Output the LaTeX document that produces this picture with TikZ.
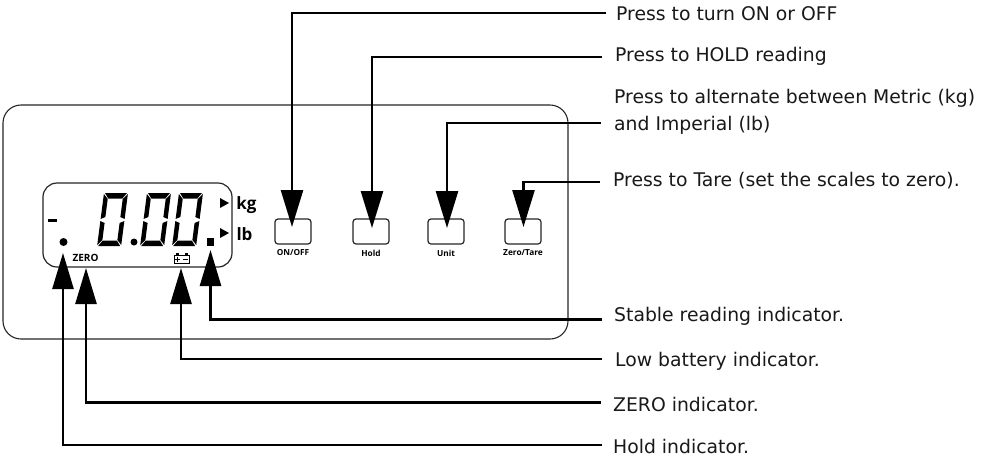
\documentclass[tikz,border=0pt]{standalone}
\usepackage{fontspec}
\setmainfont{DejaVu Sans}
\newfontfamily\lblfont{Open Sans}
\usetikzlibrary{arrows.meta}
\newcommand{\lcddigit}[1]{%
  \begin{scope}[shift={(#1,193)},xslant=0.13]
    \fill (1,0)--(23,0)--(19,5.5)--(5,5.5)--cycle;
    \fill (0,1)--(4.5,6)--(4.5,24)--(0,26)--cycle;
    \fill (24,1)--(24,26)--(19.5,24)--(19.5,6)--cycle;
    \fill (0,28)--(4.5,30)--(4.5,47)--(0,52)--cycle;
    \fill (24,28)--(24,52)--(19.5,47)--(19.5,30)--cycle;
    \fill (1,53)--(23,53)--(19,47.5)--(5,47.5)--cycle;
  \end{scope}}
\tikzset{
  frameline/.style={draw=black!85,line width=1.1pt},
  btnbox/.style={draw=black!85,line width=1.2pt,rounded corners=3pt,minimum width=36pt,minimum height=25pt,inner sep=0pt},
  btnlabel/.style={font=\lblfont\bfseries\fontsize{8.3}{9}\selectfont,inner sep=0pt},
  note/.style={anchor=west,inner sep=0pt,align=left,font=\fontsize{18.8}{27}\selectfont,text=black!90},
  conn/.style={draw=black,line width=2.6pt,line join=miter,-{Triangle[width=22pt,length=37pt]}},
  connb/.style={draw=black,line width=2.6pt,line join=miter,-{Triangle[width=21pt,length=36pt]}}
}
\begin{document}
\begin{tikzpicture}[x=1pt,y=-1pt]
\useasboundingbox (0,0) rectangle (984,459);
\fill[white] (0,0) rectangle (984,459);
% housing and display
\draw[frameline,rounded corners=18pt] (3,105) rectangle (568,339);
\node[draw=black!85,line width=1.2pt,rounded corners=14pt,minimum width=189pt,minimum height=84pt,inner sep=0pt] (lcd) at (137.5,225) {};
% display content
\lcddigit{104}
\lcddigit{147}
\lcddigit{179}
\fill (48,219) rectangle (57,222);
\node[circle,fill=black,minimum size=8pt,inner sep=0pt] (holddot) at (63.5,242) {};
\node[circle,fill=black,minimum size=7pt,inner sep=0pt] (decdot) at (134,242) {};
\node[fill=black,minimum size=7.5pt,inner sep=0pt] (stablesq) at (210.5,242) {};
\node[inner sep=0pt,font=\lblfont\bfseries\fontsize{10}{11}\selectfont] (zerolbl) at (85.5,257.5) {ZERO};
\fill (220,198)--(229,203)--(220,208)--cycle;
\fill (220,228)--(229,233)--(220,238)--cycle;
\node[inner sep=0pt,font=\lblfont\bfseries\fontsize{17}{18}\selectfont] (kg) at (246.5,205) {kg};
\node[inner sep=0pt,font=\lblfont\bfseries\fontsize{17}{18}\selectfont] (lb) at (244.5,234) {lb};
% battery icon
\node[draw=black,line width=1pt,minimum width=15pt,minimum height=8pt,inner sep=0pt] (batt) at (181.5,259) {};
\fill (175.5,253) rectangle (178.5,255);
\fill (184.5,253) rectangle (187.5,255);
\draw[line width=1pt] (175,259)--(180,259) (177.5,256.5)--(177.5,261.5) (183,259)--(188,259);
% buttons
\node[btnbox] (bon) at (293,231.5) {};
\node[btnbox] (bhold) at (371,231.5) {};
\node[btnbox] (bunit) at (446,231.5) {};
\node[btnbox] (bzero) at (523,231.5) {};
\node[btnlabel] (lon) at (293,253) {ON/OFF};
\node[btnlabel] (lhold) at (371,253) {Hold};
\node[btnlabel] (lunit) at (446,253) {Unit};
\node[btnlabel] (lzero) at (523,253) {Zero/Tare};
% notes
\node[note] (non) at (616,14) {Press to turn ON or OFF};
\node[note] (nhold) at (615,56) {Press to HOLD reading};
\node[note] (nunit) at (614,111.5) {Press to alternate between Metric (kg)\\and Imperial (lb)};
\node[note] (nzero) at (613,181) {Press to Tare (set the scales to zero).};
\node[note] (nstable) at (614,316) {Stable reading indicator.};
\node[note] (nbatt) at (615,361) {Low battery indicator.};
\node[note] (nzi) at (613,404) {ZERO indicator.};
\node[note] (nhi) at (613,446) {Hold indicator.};
% connector ends
\coordinate (eon) at (606,13);
\coordinate (ehold) at (602,57);
\coordinate (eunit) at (601,123);
\coordinate (ezero) at (600,182);
\coordinate (estable) at (602,319.5);
\coordinate (ebatt) at (602,359);
\coordinate (ezi) at (601,402.5);
\coordinate (ehi) at (602,445);
\coordinate (ton) at (292,227);
\coordinate (thold) at (372,228);
\coordinate (tunit) at (447,228);
\coordinate (tzero) at (523.5,227);
\coordinate (tstable) at (210.5,250);
\coordinate (tbatt) at (181,268);
\coordinate (tzi) at (86,268);
\coordinate (thi) at (63,253);
% connectors
\draw[conn] (eon) -| (ton);
\draw[conn] (ehold) -| (thold);
\draw[conn] (eunit) -| (tunit);
\draw[conn] (ezero) -| (tzero);
\draw[connb] (estable) -| (tstable);
\draw[connb] (ebatt) -| (tbatt);
\draw[connb] (ezi) -| (tzi);
\draw[connb] (ehi) -| (thi);
\end{tikzpicture}
\end{document}
